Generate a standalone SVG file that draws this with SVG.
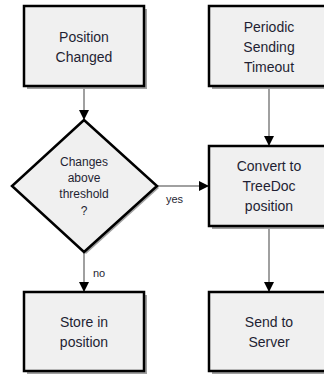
<svg xmlns="http://www.w3.org/2000/svg" width="324" height="376" viewBox="0 0 324 376">
<defs>
<marker id="arr" markerWidth="10" markerHeight="10" refX="10" refY="5" orient="auto" markerUnits="userSpaceOnUse">
<path d="M0,0 L10,5 L0,10 Z" fill="#000"/>
</marker>
</defs>
<style>
.box{fill:#f0f0f0;stroke:#000;stroke-width:2.5}
.sh{fill:#a0a0a0}
.t{font-family:"Liberation Sans",Arial,sans-serif;font-size:14px;fill:#1f1f33;text-anchor:middle}
.td{font-family:"Liberation Sans",Arial,sans-serif;font-size:12px;fill:#1f1f33;text-anchor:middle}
.lbl{font-family:"Liberation Sans",Arial,sans-serif;font-size:11px;fill:#1f1f33}
.c{stroke:#808080;stroke-width:1.5;fill:none}
</style>
<rect width="324" height="376" fill="#fff"/>
<g id="connectors">
<line class="c" x1="84" y1="87" x2="84" y2="120" marker-end="url(#arr)"/>
<line class="c" x1="269" y1="87" x2="269" y2="146" marker-end="url(#arr)"/>
<line class="c" x1="157" y1="186" x2="209" y2="186" marker-end="url(#arr)"/>
<line class="c" x1="84" y1="252" x2="84" y2="292" marker-end="url(#arr)"/>
<line class="c" x1="269" y1="227" x2="269" y2="292" marker-end="url(#arr)"/>
<text class="lbl" x="166" y="203">yes</text>
<text class="lbl" x="93" y="277">no</text>
</g>
<g id="position-changed">
<rect class="sh" x="27" y="9" width="120" height="80"/>
<rect class="box" x="24" y="6" width="120" height="80"/>
<text class="t" x="84" y="42">Position</text>
<text class="t" x="84" y="62">Changed</text>
</g>
<g id="periodic-timeout">
<rect class="sh" x="212" y="9" width="120" height="80"/>
<rect class="box" x="209" y="6" width="120" height="80"/>
<text class="t" x="269" y="32">Periodic</text>
<text class="t" x="269" y="52">Sending</text>
<text class="t" x="269" y="72">Timeout</text>
</g>
<g id="changes-threshold">
<polygon class="sh" points="86,122 159,188 86,254 14,188"/>
<polygon class="box" points="84,120 157,186 84,252 12,186"/>
<text class="td" x="84" y="166">Changes</text>
<text class="td" x="84" y="182">above</text>
<text class="td" x="84" y="198">threshold</text>
<text class="td" x="84" y="215">?</text>
</g>
<g id="convert-treedoc">
<rect class="sh" x="212" y="149" width="120" height="80"/>
<rect class="box" x="209" y="146" width="120" height="80"/>
<text class="t" x="269" y="171">Convert to</text>
<text class="t" x="269" y="191">TreeDoc</text>
<text class="t" x="269" y="211">position</text>
</g>
<g id="store-position">
<rect class="sh" x="27" y="295" width="120" height="79"/>
<rect class="box" x="24" y="292" width="120" height="79"/>
<text class="t" x="84" y="327">Store in</text>
<text class="t" x="84" y="347">position</text>
</g>
<g id="send-server">
<rect class="sh" x="212" y="295" width="120" height="79"/>
<rect class="box" x="209" y="292" width="120" height="79"/>
<text class="t" x="269" y="327">Send to</text>
<text class="t" x="269" y="347">Server</text>
</g>
</svg>
